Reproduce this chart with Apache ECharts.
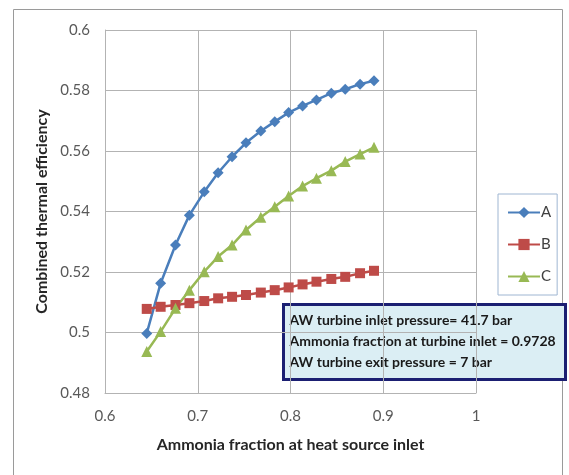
<!DOCTYPE html>
<html>
<head>
<meta charset="utf-8">
<script src="https://cdn.jsdelivr.net/npm/echarts@6/dist/echarts.min.js"></script>
<style>
  html, body { margin: 0; padding: 0; background: #ffffff; }
  #chart { width: 569px; height: 475px; }
</style>
</head>
<body>
<div id="chart"></div>
<script>
// Ammonia fraction at heat source inlet
const ammoniaFraction = [0.645, 0.660, 0.676, 0.691, 0.707, 0.722, 0.737, 0.752, 0.768,
  0.783, 0.798, 0.813, 0.828, 0.844, 0.859, 0.875, 0.890];

// Combined thermal efficiency per case
const caseA = [0.4997, 0.5163, 0.5289, 0.5388, 0.5465, 0.5528, 0.5581, 0.5627, 0.5666,
  0.5697, 0.5727, 0.5749, 0.5769, 0.5791, 0.5804, 0.5821, 0.5832];
const caseB = [0.5078, 0.5085, 0.5091, 0.5097, 0.5104, 0.5113, 0.5118, 0.5124, 0.5132,
  0.5140, 0.5149, 0.5159, 0.5168, 0.5177, 0.5184, 0.5196, 0.5204];
const caseC = [0.4937, 0.5003, 0.5080, 0.5140, 0.5201, 0.5251, 0.5289, 0.5339, 0.5381,
  0.5416, 0.5451, 0.5484, 0.5510, 0.5535, 0.5565, 0.5590, 0.5612];

const seriesNames = ['A', 'B', 'C'];
const noteLines = [
  'AW turbine inlet pressure= 41.7 bar',
  'Ammonia fraction at turbine inlet = 0.9728',
  'AW turbine exit pressure = 7 bar'
];

const FONT = 'Lato, "Open Sans", sans-serif';
const pairs = ys => ammoniaFraction.map((x, i) => [x, ys[i]]);

const chart = echarts.init(document.getElementById('chart'), null, { renderer: 'canvas' });

const gridColor = '#b3b3b3';

chart.setOption({
  animation: false,
  backgroundColor: '#ffffff',
  grid: { left: 105, top: 30, right: 93, bottom: 82, containLabel: false },
  xAxis: {
    type: 'value', min: 0.6, max: 1, interval: 0.1,
    name: 'Ammonia fraction at heat source inlet',
    nameLocation: 'middle', nameGap: 44,
    nameTextStyle: { fontFamily: FONT, fontWeight: 'bold', fontSize: 16, color: '#262626' },
    axisLine: { show: true, lineStyle: { color: gridColor, width: 1 } },
    axisTick: { show: false },
    axisLabel: { fontFamily: FONT, fontSize: 15, color: '#595959', margin: 16 },
    splitLine: { show: true, lineStyle: { color: gridColor, width: 1 } }
  },
  yAxis: {
    type: 'value', min: 0.48, max: 0.6, interval: 0.02,
    name: 'Combined thermal efficiency',
    nameLocation: 'middle', nameGap: 51, nameRotate: 90,
    nameTextStyle: { fontFamily: FONT, fontWeight: 'bold', fontSize: 16, color: '#262626' },
    axisLine: { show: true, lineStyle: { color: gridColor, width: 1 } },
    axisTick: { show: false },
    axisLabel: { fontFamily: FONT, fontSize: 15, color: '#595959', margin: 15 },
    splitLine: { show: true, lineStyle: { color: gridColor, width: 1 } }
  },
  legend: {
    orient: 'vertical', left: 498, top: 194,
    padding: [11, 6, 11, 9], itemGap: 17, itemWidth: 32, itemHeight: 14,
    borderColor: '#9fb6d2', borderWidth: 1, backgroundColor: '#ffffff',
    textStyle: { fontFamily: FONT, fontSize: 15, color: '#404040', padding: [0, 0, 0, -4] },
    data: seriesNames
  },
  series: [
    {
      name: seriesNames[0], type: 'line', data: pairs(caseA),
      symbol: 'diamond', symbolSize: 11,
      lineStyle: { color: '#4a7ebb', width: 2.5 },
      itemStyle: { color: '#4a7ebb' }
    },
    {
      name: seriesNames[1], type: 'line', data: pairs(caseB),
      symbol: 'rect', symbolSize: 10,
      lineStyle: { color: '#be4b48', width: 2.5 },
      itemStyle: { color: '#be4b48' }
    },
    {
      name: seriesNames[2], type: 'line', data: pairs(caseC),
      symbol: 'triangle', symbolSize: 11,
      lineStyle: { color: '#98b954', width: 2.5 },
      itemStyle: { color: '#98b954' }
    }
  ],
  graphic: [
    {
      type: 'rect', silent: true, z: -1,
      shape: { x: 13.5, y: 9.5, width: 549, height: 480 },
      style: { fill: 'none', stroke: '#9a9a9a', lineWidth: 1 }
    },
    {
      type: 'group', left: 282, top: 303, z: 100,
      children: [
        {
          type: 'rect',
          shape: { x: 0, y: 0, width: 282, height: 75 },
          style: { fill: '#dbeef4', stroke: '#1b1f72', lineWidth: 3 }
        },
        {
          type: 'text', left: 6, top: 5,
          style: {
            text: noteLines.join('\n'),
            font: 'bold 14px ' + FONT,
            lineHeight: 21,
            fill: '#1a1a1a'
          }
        }
      ]
    }
  ]
});
</script>
</body>
</html>
